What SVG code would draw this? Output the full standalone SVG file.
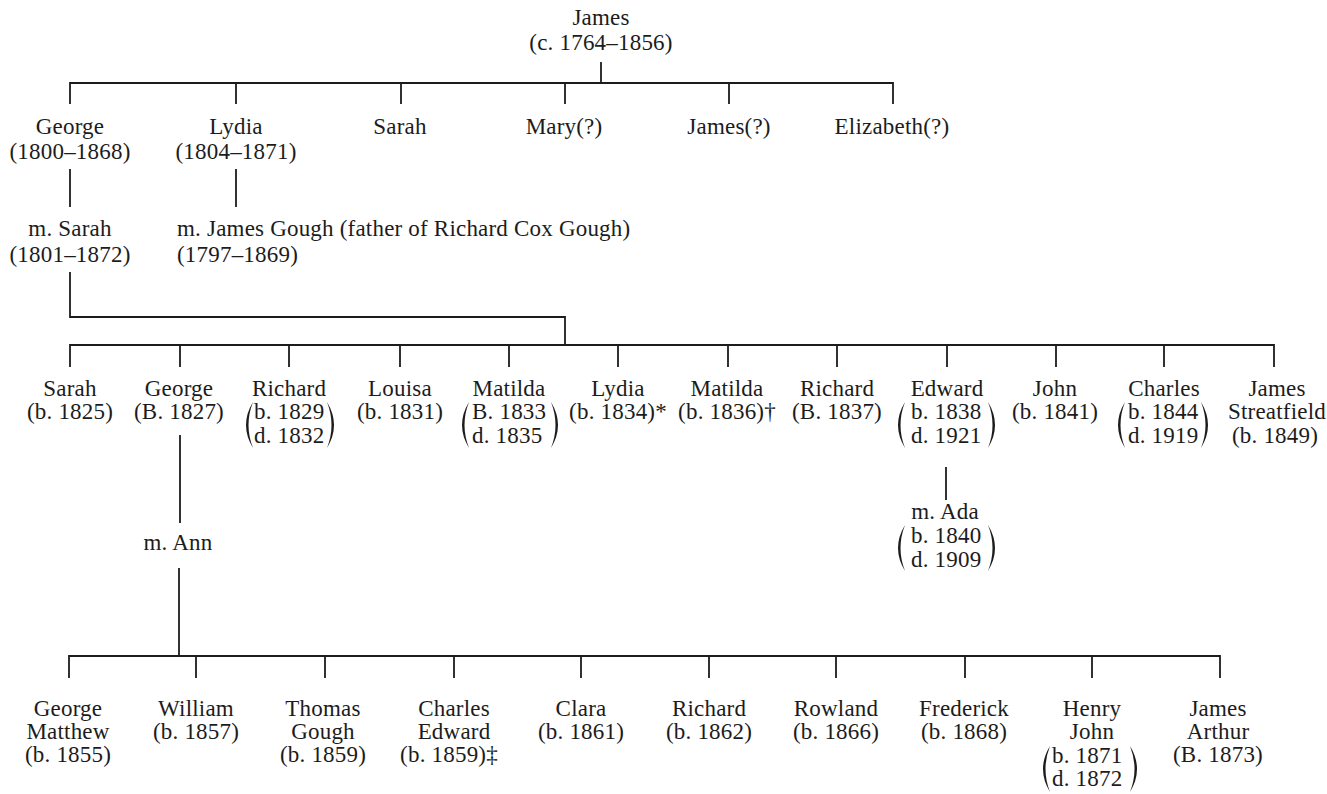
<svg xmlns="http://www.w3.org/2000/svg" xmlns:xlink="http://www.w3.org/1999/xlink" width="1327" height="794" viewBox="0 0 1327 794">
<style>
text{font-family:"Liberation Serif","Times New Roman",serif;font-size:23px;fill:#1c1c1c;letter-spacing:0.2px}
.c{text-anchor:middle}
.l{text-anchor:start}
.ln{fill:none;stroke:#1c1c1c;stroke-width:1.8;stroke-linecap:butt}
.p{fill:#1c1c1c}
</style>
<defs>
<path id="lp" class="p" d="M7,0 Q-7,23 7,46 Q-2,23 7,0 Z"/>
<path id="rp" class="p" d="M0,0 Q14,23 0,46 Q9,23 0,0 Z"/>
</defs>
<rect width="1327" height="794" fill="#ffffff"/>
<g id="connectors" class="ln">
<path d="M601,62 V83"/>
<path d="M70,104 V83 H893 V104"/>
<path d="M236,83 V104 M401,83 V104 M565,83 V104 M729,83 V104"/>
<path d="M70,169 V207"/>
<path d="M236,169 V207"/>
<path d="M70,272 V317 H565 V345"/>
<path d="M70,367 V345 H1274 V367"/>
<path d="M180,345 V367 M289,345 V367 M400,345 V367 M509,345 V367 M618,345 V367 M728,345 V367 M837,345 V367 M947,345 V367 M1056,345 V367 M1164,345 V367"/>
<path d="M180,435 V523"/>
<path d="M179,568 V656"/>
<path d="M946,467 V500"/>
<path d="M69,678 V656 H1220 V678"/>
<path d="M196,656 V678 M325,656 V678 M454,656 V678 M581,656 V678 M709,656 V678 M836,656 V678 M965,656 V678 M1092,656 V678"/>
</g>
<g id="james-1764"><text class="c" x="601" y="25">James</text><text class="c" x="601" y="50">(c. 1764–1856)</text></g>
<g id="george-1800"><text class="c" x="70" y="134">George</text><text class="c" x="70" y="159">(1800–1868)</text></g>
<g id="lydia-1804"><text class="c" x="236" y="134">Lydia</text><text class="c" x="236" y="159">(1804–1871)</text></g>
<g id="sarah-top"><text class="c" x="400" y="134">Sarah</text></g>
<g id="mary"><text class="c" x="564" y="134">Mary(?)</text></g>
<g id="james-q"><text class="c" x="729" y="134">James(?)</text></g>
<g id="elizabeth"><text class="c" x="892" y="134">Elizabeth(?)</text></g>
<g id="m-sarah"><text class="c" x="70" y="236">m. Sarah</text><text class="c" x="70" y="262">(1801–1872)</text></g>
<g id="m-james-gough"><text class="l" x="177" y="236">m. James Gough (father of Richard Cox Gough)</text><text class="l" x="177" y="262">(1797–1869)</text></g>
<g id="sarah-1825"><text class="c" x="70" y="396">Sarah</text><text class="c" x="70" y="419">(b. 1825)</text></g>
<g id="george-1827"><text class="c" x="179" y="396">George</text><text class="c" x="179" y="419">(B. 1827)</text></g>
<g id="richard-1829"><text class="c" x="289" y="396">Richard</text><text class="l" x="254" y="419">b. 1829</text><text class="l" x="254" y="443">d. 1832</text><use xlink:href="#lp" x="246" y="402"/><use xlink:href="#rp" x="327" y="402"/></g>
<g id="louisa-1831"><text class="c" x="400" y="396">Louisa</text><text class="c" x="400" y="419">(b. 1831)</text></g>
<g id="matilda-1833"><text class="c" x="509" y="396">Matilda</text><text class="l" x="472" y="419">B. 1833</text><text class="l" x="472" y="443">d. 1835</text><use xlink:href="#lp" x="462" y="402"/><use xlink:href="#rp" x="551" y="402"/></g>
<g id="lydia-1834"><text class="c" x="618" y="396">Lydia</text><text class="c" x="618" y="419">(b. 1834)*</text></g>
<g id="matilda-1836"><text class="c" x="727" y="396">Matilda</text><text class="c" x="727" y="419">(b. 1836)†</text></g>
<g id="richard-1837"><text class="c" x="837" y="396">Richard</text><text class="c" x="837" y="419">(B. 1837)</text></g>
<g id="edward-1838"><text class="c" x="947" y="396">Edward</text><text class="l" x="911" y="419">b. 1838</text><text class="l" x="911" y="443">d. 1921</text><use xlink:href="#lp" x="898" y="402"/><use xlink:href="#rp" x="988" y="402"/></g>
<g id="john-1841"><text class="c" x="1055" y="396">John</text><text class="c" x="1055" y="419">(b. 1841)</text></g>
<g id="charles-1844"><text class="c" x="1164" y="396">Charles</text><text class="l" x="1128" y="419">b. 1844</text><text class="l" x="1128" y="443">d. 1919</text><use xlink:href="#lp" x="1118" y="402"/><use xlink:href="#rp" x="1201" y="402"/></g>
<g id="james-streatfield"><text class="c" x="1277" y="396">James</text><text class="c" x="1277" y="419">Streatfield</text><text class="c" x="1275" y="443">(b. 1849)</text></g>
<g id="m-ann"><text class="c" x="178" y="550">m. Ann</text></g>
<g id="m-ada"><text class="c" x="945" y="519">m. Ada</text><text class="l" x="911" y="543">b. 1840</text><text class="l" x="911" y="567">d. 1909</text><use xlink:href="#lp" x="898" y="525"/><use xlink:href="#rp" x="988" y="525"/></g>
<g id="george-matthew"><text class="c" x="68" y="716">George</text><text class="c" x="68" y="739">Matthew</text><text class="c" x="68" y="762">(b. 1855)</text></g>
<g id="william"><text class="c" x="196" y="716">William</text><text class="c" x="196" y="739">(b. 1857)</text></g>
<g id="thomas-gough"><text class="c" x="323" y="716">Thomas</text><text class="c" x="323" y="739">Gough</text><text class="c" x="323" y="762">(b. 1859)</text></g>
<g id="charles-edward"><text class="c" x="454" y="716">Charles</text><text class="c" x="454" y="739">Edward</text><text class="c" x="449" y="762">(b. 1859)‡</text></g>
<g id="clara"><text class="c" x="581" y="716">Clara</text><text class="c" x="581" y="739">(b. 1861)</text></g>
<g id="richard-1862"><text class="c" x="709" y="716">Richard</text><text class="c" x="709" y="739">(b. 1862)</text></g>
<g id="rowland"><text class="c" x="836" y="716">Rowland</text><text class="c" x="836" y="739">(b. 1866)</text></g>
<g id="frederick"><text class="c" x="964" y="716">Frederick</text><text class="c" x="964" y="739">(b. 1868)</text></g>
<g id="henry-john"><text class="c" x="1092" y="716">Henry</text><text class="c" x="1092" y="739">John</text><text class="l" x="1052" y="763">b. 1871</text><text class="l" x="1052" y="786">d. 1872</text><use xlink:href="#lp" x="1043" y="746"/><use xlink:href="#rp" x="1130" y="746"/></g>
<g id="james-arthur"><text class="c" x="1218" y="716">James</text><text class="c" x="1218" y="739">Arthur</text><text class="c" x="1218" y="762">(B. 1873)</text></g>
</svg>
